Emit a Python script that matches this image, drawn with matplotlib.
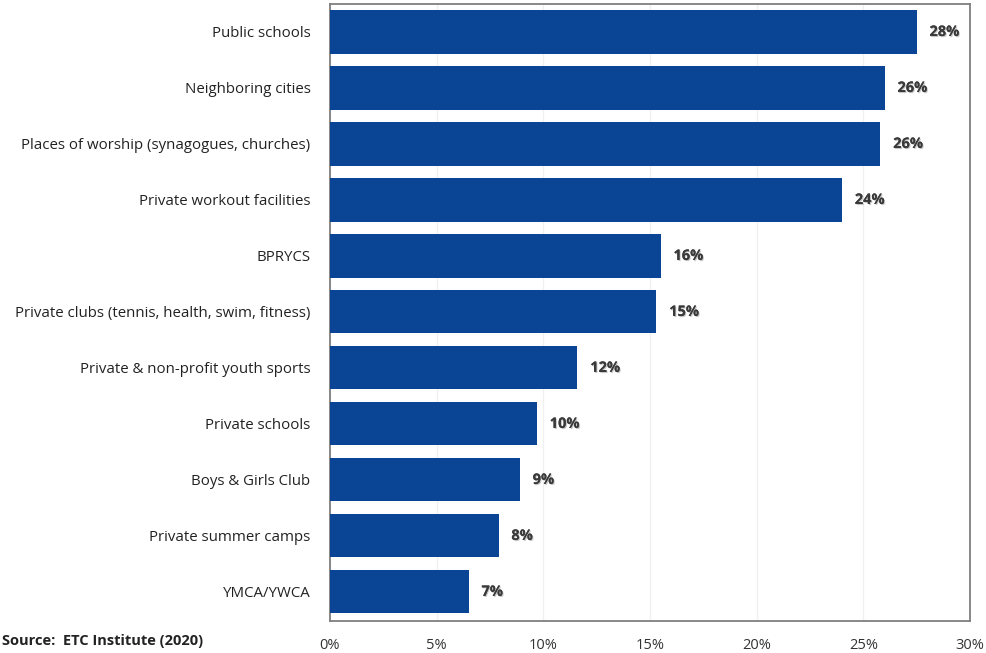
import matplotlib
matplotlib.use("Agg")
import matplotlib.pyplot as plt
import matplotlib.patheffects as pe

categories = [
    "Public schools",
    "Neighboring cities",
    "Places of worship (synagogues, churches)",
    "Private workout facilities",
    "BPRYCS",
    "Private clubs (tennis, health, swim, fitness)",
    "Private & non-profit youth sports",
    "Private schools",
    "Boys & Girls Club",
    "Private summer camps",
    "YMCA/YWCA",
]
values = [27.5, 26.0, 25.8, 24.0, 15.5, 15.3, 11.6, 9.7, 8.9, 7.9, 6.5]
value_labels = ["28%", "26%", "26%", "24%", "16%", "15%", "12%", "10%", "9%", "8%", "7%"]
xticks = [0, 5, 10, 15, 20, 25, 30]

plt.rcParams["font.family"] = ["Open Sans", "DejaVu Sans"]

fig = plt.figure(figsize=(9.87, 6.53), dpi=100)
ax = fig.add_axes([330 / 987, 1 - 621 / 653, 640 / 987, 617 / 653])

ypos = list(range(len(categories)))
ax.barh(ypos, values, height=0.77, color="#0a4595", zorder=3)

for y, v, lab in zip(ypos, values, value_labels):
    ax.text(v + 0.6, y, lab, va="center", ha="left", fontsize=10.5,
            fontweight="bold", color="#3a3a3a", zorder=4,
            path_effects=[pe.withSimplePatchShadow(offset=(0.8, -0.8),
                                                   shadow_rgbFace="#b0b0b0", alpha=0.7),
                          pe.Normal()])

ax.set_xlim(0, 30)
ax.set_ylim(len(categories) - 0.48, -0.5)
ax.set_yticks(ypos)
ax.set_yticklabels(categories, fontsize=10.8, color="#222222")
ax.set_xticks(xticks)
ax.set_xticklabels([f"{t}%" for t in xticks], fontsize=10.5, color="#333333")
ax.tick_params(axis="both", length=0)
ax.tick_params(axis="y", pad=14)
ax.tick_params(axis="x", pad=12)
ax.grid(axis="x", color="#f0f0f0", lw=1, zorder=0)
for s in ax.spines.values():
    s.set_color("#7f7f7f")
    s.set_linewidth(1.3)

fig.text(2 / 987, 1 - 641 / 653, "Source:  ETC Institute (2020)", fontsize=10.5,
         fontweight="bold", color="#222222", va="center", ha="left")

fig.savefig("out.png", dpi=100)
